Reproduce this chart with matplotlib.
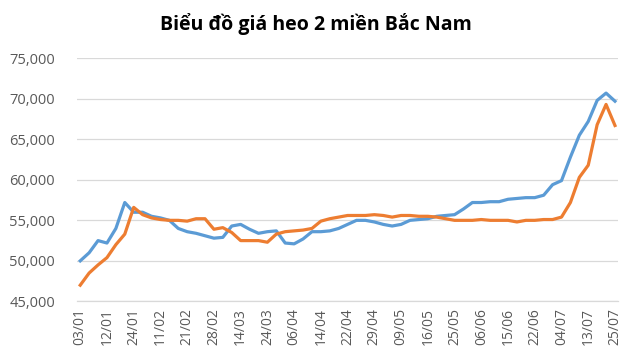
import matplotlib
matplotlib.use("Agg")
import matplotlib.pyplot as plt
from matplotlib.ticker import FuncFormatter

plt.rcParams['font.family'] = ['Open Sans', 'DejaVu Sans']

title = "Biểu đồ giá heo 2 miền Bắc Nam"

tick_labels = ["03/01", "12/01", "24/01", "11/02", "21/02", "28/02", "14/03",
               "24/03", "06/04", "14/04", "22/04", "29/04", "09/05", "16/05",
               "25/05", "06/06", "15/06", "22/06", "04/07", "13/07", "25/07"]

# gia heo (dong/kg), 61 diem
blue = [50000, 51000, 52500, 52200, 54000, 57200, 56000, 56000, 55500, 55300,
        55000, 54000, 53600, 53400, 53100, 52800, 52900, 54300, 54500, 53900,
        53400, 53600, 53700, 52200, 52100, 52700, 53600, 53600, 53700, 54000,
        54500, 55000, 55000, 54800, 54500, 54300, 54500, 55000, 55100, 55200,
        55500, 55600, 55700, 56400, 57200, 57200, 57300, 57300, 57600, 57700,
        57800, 57800, 58100, 59400, 59900, 62800, 65500, 67200, 69800, 70700,
        69700]

orange = [47000, 48500, 49500, 50400, 52000, 53300, 56600, 55700, 55300, 55100,
          55000, 55000, 54900, 55200, 55200, 53900, 54100, 53500, 52500, 52500,
          52500, 52300, 53300, 53600, 53700, 53800, 54000, 54900, 55200, 55400,
          55600, 55600, 55600, 55700, 55600, 55400, 55600, 55600, 55500, 55500,
          55400, 55200, 55000, 55000, 55000, 55100, 55000, 55000, 55000, 54800,
          55000, 55000, 55100, 55100, 55400, 57200, 60300, 61800, 66800, 69300,
          66700]

x = list(range(len(blue)))

fig = plt.figure(figsize=(6.32, 3.64), dpi=100)
ax = fig.add_axes([0.122, 0.172, 0.856, 0.668])

ax.plot(x, blue, color='#5B9BD5', lw=2.3, solid_joinstyle='round')
ax.plot(x, orange, color='#ED7D31', lw=2.3, solid_joinstyle='round')

ax.set_ylim(45000, 75000)
ax.set_yticks(range(45000, 75001, 5000))
ax.yaxis.set_major_formatter(FuncFormatter(lambda v, p: f"{int(v):,}"))
ax.set_xlim(-0.35, len(blue) - 1 + 0.35)
ax.set_xticks(x[::3])
ax.set_xticklabels(tick_labels, rotation=90)

ax.grid(axis='y', color='#D9D9D9', lw=0.9)
ax.set_axisbelow(True)
for s in ['top', 'right', 'left']:
    ax.spines[s].set_visible(False)
ax.spines['bottom'].set_color('#D9D9D9')
ax.spines['bottom'].set_linewidth(0.9)

ax.tick_params(axis='y', length=0, pad=16, labelsize=10.5, labelcolor='#595959')
ax.tick_params(axis='x', length=0, pad=5, labelsize=10, labelcolor='#595959')

fig.suptitle(title, fontsize=14, fontweight='bold', color='#000000', y=0.965)

fig.savefig('out.png', dpi=100, facecolor='white')
